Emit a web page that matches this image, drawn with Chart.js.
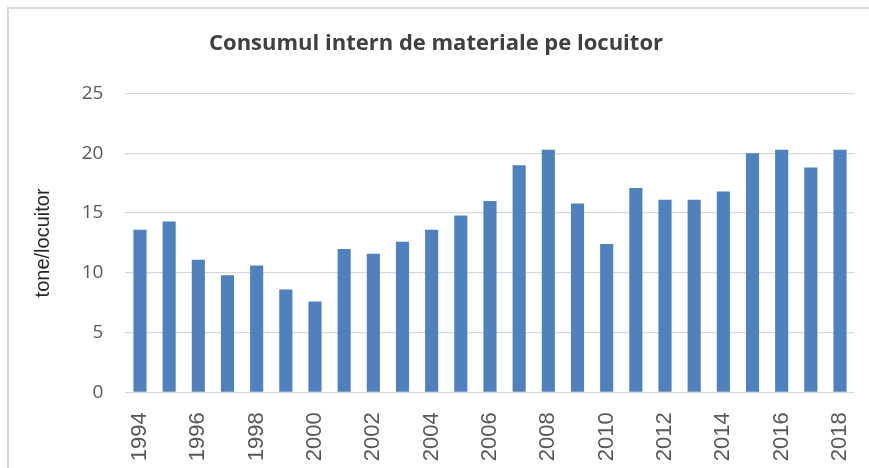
<!DOCTYPE html>
<html>
<head>
<meta charset="utf-8">
<script src="https://cdn.jsdelivr.net/npm/chart.js@4/dist/chart.umd.min.js"></script>
<style>
  html, body { margin: 0; padding: 0; background: #ffffff; }
  #wrap { position: relative; width: 869px; height: 468px; overflow: hidden; }
  #frame { position: absolute; left: 7px; top: 7px; width: 900px; height: 500px;
           border-left: 2px solid #d9d9d9; border-top: 2px solid #d9d9d9; box-sizing: border-box; }
  canvas { position: absolute; left: 0; top: 0; }
</style>
</head>
<body>
<div id="wrap">
  <div id="frame"></div>
  <canvas id="c" width="869" height="468"></canvas>
</div>
<script>
const chartTitle = "Consumul intern de materiale pe locuitor";
const yAxisTitle = "tone/locuitor";
const years = ["1994","1995","1996","1997","1998","1999","2000","2001","2002","2003","2004","2005","2006",
               "2007","2008","2009","2010","2011","2012","2013","2014","2015","2016","2017","2018"];
const consumption = [13.6, 14.3, 11.1, 9.8, 10.6, 8.6, 7.6, 12.0, 11.6, 12.6, 13.6, 14.8, 16.0,
                     19.0, 20.3, 15.8, 12.4, 17.1, 16.1, 16.1, 16.8, 20.0, 20.3, 18.8, 20.3];
const yTicks = [0, 5, 10, 15, 20, 25];

new Chart(document.getElementById('c'), {
  type: 'bar',
  data: {
    labels: years,
    datasets: [{
      data: consumption,
      backgroundColor: '#4f81bd',
      borderWidth: 0,
      categoryPercentage: 1.0,
      barPercentage: 0.45
    }]
  },
  options: {
    responsive: false,
    animation: false,
    devicePixelRatio: 1,
    layout: { padding: { left: 17.4, right: 14.4, top: 0, bottom: 0 } },
    plugins: {
      legend: { display: false },
      tooltip: { enabled: false },
      title: {
        display: true,
        text: chartTitle,
        color: '#404040',
        font: { family: 'Open Sans', size: 22, weight: 'bold', lineHeight: 1.2 },
        padding: { top: 30.8, bottom: 36.3 }
      }
    },
    scales: {
      x: {
        grid: { display: false },
        border: { display: false },
        ticks: {
          color: '#595959',
          font: { family: 'Liberation Sans', size: 22 },
          minRotation: 90,
          maxRotation: 90,
          autoSkip: false,
          padding: 12,
          callback: function(v, i) { return i % 2 === 0 ? years[i] : ''; }
        },
        afterFit: function(s) { s.height = 75.7; s.paddingLeft = 0; s.paddingRight = 0; }
      },
      y: {
        min: yTicks[0],
        max: yTicks[yTicks.length - 1],
        afterBuildTicks: function(s) { s.ticks = yTicks.map(v => ({ value: v })); },
        grid: { color: '#d9d9d9', lineWidth: 1.3, drawTicks: false },
        border: { display: false },
        ticks: {
          color: '#595959',
          font: { family: 'Open Sans', size: 19 },
          padding: 22
        },
        title: {
          display: true,
          text: yAxisTitle,
          color: '#262626',
          font: { family: 'Liberation Sans', size: 20 },
          padding: { top: 14, bottom: 0 }
        },
        afterFit: function(s) { s.width = 108; s.paddingTop = 0; s.paddingBottom = 0; }
      }
    }
  }
});
</script>
</body>
</html>
